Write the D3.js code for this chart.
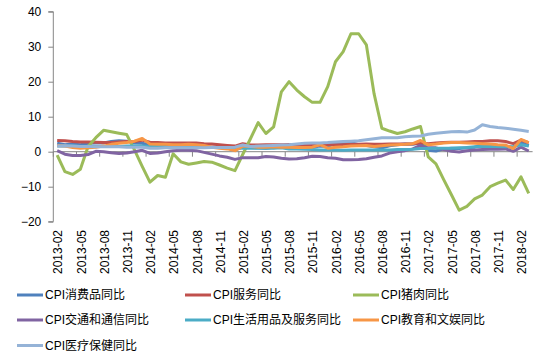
<!DOCTYPE html>
<html><head><meta charset="utf-8">
<script src="https://cdn.jsdelivr.net/npm/d3@7"></script>
<style>
html,body{margin:0;padding:0;background:#fff;}
svg{display:block;font-family:"Liberation Sans",Arial,sans-serif;}
</style></head>
<body><svg id="c" width="543" height="362"></svg>
<script>
// months 2013-02 .. 2018-03
const months = [];
for (let y = 2013; y <= 2018; y++) for (let m = 1; m <= 12; m++) {
  if ((y === 2013 && m < 2) || (y === 2018 && m > 3)) continue;
  months.push(y + "-" + String(m).padStart(2, "0"));
}
const yTicks = [-20, -10, 0, 10, 20, 30, 40];
const seriesNames = ["CPI消费品同比","CPI服务同比","CPI猪肉同比","CPI交通和通信同比","CPI生活用品及服务同比","CPI教育和文娱同比","CPI医疗保健同比"];
const colors = ["#4F81BD","#C0504D","#9BBB59","#8064A2","#4BACC6","#F79646","#95B3D7"];

const consumerGoods = [2.4,2.0,2.2,2.0,2.4,2.5,2.5,2.9,3.1,3.0,2.5,2.4,1.8,2.0,1.7,1.8,2.2,2.1,2.0,1.4,1.3,1.3,1.2,0.5,1.3,1.2,1.1,1.0,1.3,1.7,2.0,1.6,1.3,1.3,1.6,1.5,2.4,2.4,2.6,2.0,1.8,1.4,1.1,1.7,2.0,2.2,2.1,2.5,0.4,0.2,0.8,1.0,0.9,1.1,1.3,1.9,1.5,1.4,1.5,1.2,2.6,1.7];
const services = [3.2,3.1,2.9,2.8,2.8,2.7,2.6,2.6,2.8,2.9,2.9,3.3,2.7,2.6,2.5,2.5,2.5,2.5,2.5,2.3,2.2,2.0,1.8,1.6,2.3,1.9,1.9,2.0,2.0,2.0,2.0,1.9,1.9,1.9,1.9,2.1,2.0,2.0,2.1,2.1,2.2,2.1,2.1,2.2,2.2,2.2,2.3,2.5,2.3,2.5,2.6,2.7,2.7,2.8,2.9,2.9,3.1,3.1,2.9,2.3,3.3,2.6];
const pork = [-1.0,-5.7,-6.5,-5.0,1.5,4.0,6.1,5.7,5.3,4.9,0.5,-4.2,-8.7,-6.8,-7.3,-0.6,-2.9,-3.6,-3.2,-2.8,-3.0,-3.8,-4.7,-5.4,-0.8,3.7,8.3,5.2,7.1,17.1,20.0,17.6,15.7,14.1,14.1,18.6,25.7,28.6,33.7,33.7,30.5,16.5,6.7,5.9,5.2,5.7,6.5,7.2,-1.5,-3.5,-8.0,-12.3,-16.7,-15.6,-13.5,-12.4,-10.0,-9.0,-8.1,-10.8,-7.2,-11.9];
const transport = [0.3,-0.7,-1.1,-1.1,-0.8,0.1,0.0,-0.3,-0.5,-0.4,0.0,0.4,-0.5,-0.4,0.0,0.3,0.4,0.4,0.3,-0.2,-0.7,-1.2,-1.6,-2.2,-1.7,-1.7,-1.7,-1.4,-1.5,-1.9,-2.1,-2.0,-1.7,-1.3,-1.4,-1.7,-1.9,-2.3,-2.3,-2.2,-2.0,-1.6,-1.2,-0.4,0.0,0.3,0.8,1.8,1.1,1.1,0.6,0.1,-0.1,0.3,0.5,0.6,0.7,0.7,0.8,0.1,1.3,0.2];
const household = [1.6,1.6,1.6,1.5,1.5,1.5,1.5,1.5,1.5,1.6,1.6,1.6,1.5,1.5,1.4,1.3,1.3,1.3,1.2,1.2,1.2,1.2,1.1,1.1,1.0,1.0,1.0,1.0,1.0,1.1,0.8,0.8,0.7,0.6,0.5,0.5,0.5,0.4,0.5,0.5,0.5,0.5,0.5,0.5,0.6,0.6,0.7,0.9,0.9,1.0,1.0,1.0,1.1,1.2,1.4,1.5,1.5,1.5,1.4,1.5,2.0,1.6];
const education = [1.8,1.6,1.2,1.0,1.1,1.3,1.6,2.1,2.4,2.6,3.0,3.8,2.2,2.1,2.1,2.0,2.0,2.1,2.0,1.8,1.3,1.0,0.8,0.3,1.6,1.5,1.3,1.3,1.4,1.3,1.3,1.2,1.2,1.3,2.0,1.0,1.3,1.4,1.6,1.7,1.8,1.5,1.7,1.9,2.0,2.1,2.3,3.2,2.0,2.2,2.5,2.6,2.6,2.5,2.4,2.3,2.2,2.0,1.9,0.9,3.5,2.6];
const medical = [1.6,1.7,1.6,1.5,1.5,1.4,1.4,1.4,1.4,1.3,1.3,1.3,1.0,1.0,1.1,1.1,1.1,1.1,1.1,1.1,1.2,1.2,1.2,1.3,1.9,1.5,1.6,1.7,1.8,1.9,2.0,2.2,2.4,2.5,2.5,2.6,2.8,2.9,3.0,3.1,3.4,3.7,4.0,4.0,4.0,4.3,4.4,4.5,5.0,5.3,5.5,5.7,5.8,5.6,6.2,7.7,7.2,6.9,6.7,6.4,6.1,5.8];
const seriesValues = [consumerGoods, services, pork, transport, household, education, medical];

const svg = d3.select("#c");
const axisColor = "#868686";
const x = d3.scaleBand().domain(months).range([53.3, 532.6]).padding(0);
const y = d3.scaleLinear().domain([-20, 40]).range([221.7, 11.7]);
const cx = d => x(d) + x.bandwidth() / 2;

// Y axis
const ya = svg.append("g").attr("transform", "translate(53.3,0)")
  .call(d3.axisLeft(y).tickValues(yTicks).tickSize(5).tickPadding(7).tickFormat(d3.format("d")));
ya.select(".domain").attr("stroke", axisColor).attr("d", `M-5,${y(-20)}H0V${y(40)}H-5`);
ya.selectAll(".tick line").attr("stroke", axisColor);
ya.selectAll(".tick text").attr("fill", "#000").style("font-size", "12px").style("font-family", "'Liberation Sans',Arial,sans-serif");

// X axis at zero
const y0 = y(0);
svg.append("line").attr("x1", x.range()[0]).attr("x2", x.range()[1]).attr("y1", y0).attr("y2", y0)
  .attr("stroke", axisColor).attr("stroke-width", 1);
const tickMonths = months.filter((d, i) => i % 3 === 0);
svg.append("g").selectAll("line").data(tickMonths).join("line")
  .attr("x1", d => x(d)).attr("x2", d => x(d)).attr("y1", y0).attr("y2", y0 + 5)
  .attr("stroke", axisColor);
svg.append("g").selectAll("text").data(tickMonths).join("text")
  .attr("transform", d => `translate(${cx(d) + 1},230) rotate(-90)`)
  .attr("text-anchor", "end").attr("dy", "0.35em")
  .style("font-size", "12px").attr("fill", "#000").text(d => d);

// Lines
const line = d3.line().x((v, i) => cx(months[i])).y(v => y(v));
seriesValues.forEach((vals, si) => {
  svg.append("path").datum(vals).attr("d", line)
    .attr("fill", "none").attr("stroke", colors[si]).attr("stroke-width", 3)
    .attr("stroke-linejoin", "round");
});

// Legend
const legX = [17, 185, 353], legY = [295, 320, 345.5];
seriesNames.forEach((name, i) => {
  const gx = legX[i % 3], gy = legY[Math.floor(i / 3)];
  svg.append("line").attr("x1", gx).attr("x2", gx + 26).attr("y1", gy).attr("y2", gy)
    .attr("stroke", colors[i]).attr("stroke-width", 3);
  svg.append("text").attr("x", gx + 28).attr("y", gy).attr("dy", "0.36em")
    .style("font-size", "12px").style("font-family", "'Liberation Sans','Noto Sans CJK SC',sans-serif")
    .attr("fill", "#000").text(name);
});
</script></body></html>
